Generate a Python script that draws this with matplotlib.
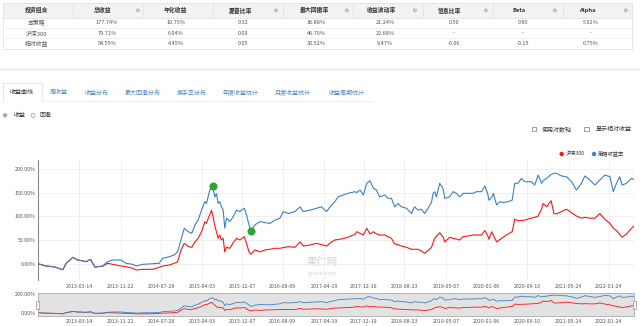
import matplotlib
matplotlib.use('Agg')
import matplotlib.pyplot as plt
import matplotlib.dates as mdates
from matplotlib.patches import Rectangle, Circle
import pandas as pd
import numpy as np

plt.rcParams['font.family'] = ['Noto Sans CJK SC', 'DejaVu Sans']

# ---------------- data ----------------
dates = [
"2012-07-05","2012-08-23","2012-10-04","2012-10-24","2012-11-24","2012-12-04","2012-12-24","2013-02-03","2013-03-04","2013-04-04",
"2013-04-24","2013-05-14","2013-05-24","2013-06-04","2013-06-20","2013-07-04","2013-08-04","2013-09-04","2013-10-05","2013-11-25",
"2013-12-25","2014-02-05","2014-02-25","2014-04-06","2014-06-06","2014-07-16","2014-08-06","2014-09-16","2014-10-16","2014-11-06",
"2014-11-26","2014-12-16","2015-01-10","2015-01-31","2015-02-20","2015-03-11","2015-04-01","2015-04-21","2015-05-01","2015-05-11",
"2015-05-21","2015-06-01","2015-06-07","2015-06-21","2015-07-01","2015-07-11","2015-07-21","2015-08-01","2015-08-11","2015-08-21",
"2015-09-01","2015-09-21","2015-10-11","2015-11-01","2015-11-21","2015-12-18","2016-01-01","2016-01-16","2016-01-27","2016-02-22",
"2016-03-23","2016-04-23","2016-05-23","2016-06-23","2016-07-23","2016-08-13","2016-09-13","2016-10-23","2016-11-23","2016-12-13",
"2017-01-23","2017-03-04","2017-04-04","2017-05-04","2017-06-04","2017-06-24","2017-07-14","2017-08-14","2017-09-14","2017-10-25",
"2017-11-04","2017-11-25","2017-12-15","2018-01-05","2018-01-25","2018-02-15","2018-03-05","2018-03-25","2018-04-25","2018-05-15",
"2018-06-05","2018-06-25","2018-07-15","2018-08-05","2018-09-05","2018-10-05","2018-10-25","2018-11-15","2018-12-05","2018-12-25",
"2019-01-15","2019-02-05","2019-02-15","2019-02-25","2019-03-07","2019-03-27","2019-04-16","2019-04-27","2019-05-27","2019-06-17",
"2019-07-07","2019-07-27","2019-08-17","2019-09-17","2019-10-17","2019-11-08","2019-12-08","2019-12-28","2020-01-14","2020-01-22",
"2020-02-08","2020-02-18","2020-03-09","2020-03-29","2020-04-18","2020-05-18","2020-06-12","2020-06-28","2020-07-18","2020-08-08",
"2020-08-28","2020-10-08","2020-10-28","2020-11-18","2020-12-09","2020-12-18","2021-01-09","2021-02-05","2021-02-23","2021-03-10",
"2021-04-10","2021-05-10","2021-06-10","2021-07-10","2021-08-10","2021-08-30","2021-09-30","2021-10-31","2021-11-30","2021-12-31",
"2022-01-31","2022-02-20","2022-03-12","2022-04-01","2022-04-15","2022-05-12","2022-06-12","2022-06-27"]

strategy_return = [
0, -4.9, -6.3, -7.7, -11.9, -12.5, 0.8, 13.4, 7.8, 6.0,
4.3, 7.8, 9.0, 0.8, -7.7, -6.3, -4.9, 4.3, 7.8, 7.8,
0.8, -1.4, -4.9, -1.4, 0.0, 0.8, 11.3, 14.8, 18.4, 25.4,
50.0, 74.6, 67.5, 64.0, 81.7, 92.0, 113.0, 131.0, 127.0, 141.0,
155.0, 159.0, 164.6, 141.0, 148.0, 127.0, 131.0, 120.0, 113.0, 75.0,
96.0, 89.0, 99.0, 113.0, 110.0, 117.0, 103.0, 82.0, 68.0, 82.0,
89.0, 86.5, 85.0, 92.0, 96.0, 110.0, 106.0, 110.0, 120.0, 110.0,
113.0, 117.0, 120.0, 110.0, 124.0, 131.0, 141.0, 145.0, 148.5, 152.0,
150.0, 155.5, 145.0, 169.6, 175.0, 159.0, 155.5, 141.0, 145.0, 138.0,
138.0, 120.0, 127.0, 120.0, 117.0, 106.0, 120.0, 113.0, 115.0, 106.0,
117.0, 130.0, 148.5, 152.0, 141.0, 169.6, 159.0, 138.0, 141.0, 152.0,
148.5, 141.0, 148.5, 148.5, 148.5, 152.0, 152.0, 164.0, 148.5, 134.0,
140.0, 148.5, 124.0, 131.0, 129.0, 131.0, 134.0, 169.6, 169.6, 180.0,
173.0, 173.0, 166.0, 187.0, 169.6, 175.0, 180.0, 188.0, 191.0, 190.7,
185.0, 183.6, 173.0, 155.5, 169.6, 185.0, 176.6, 166.0, 176.6, 187.0,
183.6, 152.0, 169.6, 183.6, 166.0, 169.6, 180.0, 177.74]

hs300_return = [
0, -4.9, -6.3, -7.7, -11.9, -12.5, 0.8, 13.4, 7.8, 6.0,
4.3, 7.8, 9.0, 0.8, -7.7, -6.3, -5.5, 0.8, -1.4, -4.9,
-6.3, -9.8, -13.3, -11.9, -11.9, -7.7, -4.9, -2.8, 0.8, 4.3,
28.9, 43.0, 36.0, 34.6, 46.0, 53.6, 67.5, 88.6, 85.0, 95.0,
103.0, 113.0, 105.0, 80.0, 67.5, 53.6, 60.6, 50.0, 53.6, 25.0,
34.6, 32.5, 44.0, 53.6, 50.0, 57.0, 43.0, 25.0, 20.0, 29.0,
25.0, 29.0, 30.5, 32.5, 32.5, 34.0, 36.0, 34.6, 46.0, 37.3,
39.5, 43.0, 40.0, 37.3, 46.0, 50.0, 51.0, 53.0, 56.0, 62.0,
67.5, 64.0, 60.6, 74.6, 62.7, 67.5, 63.0, 60.6, 60.6, 57.0,
53.6, 41.6, 40.0, 37.3, 34.6, 30.4, 30.4, 30.4, 27.0, 22.0,
28.0, 34.6, 45.0, 53.6, 58.0, 65.4, 57.0, 46.0, 55.7, 53.6,
52.0, 50.0, 57.0, 58.5, 60.6, 60.6, 60.6, 70.0, 60.0, 51.5,
67.5, 60.0, 46.0, 51.0, 55.7, 62.7, 67.5, 93.7, 90.7, 91.0,
92.0, 96.0, 98.0, 100.6, 115.0, 127.0, 120.0, 133.0, 106.0, 105.0,
110.0, 115.0, 107.6, 100.6, 96.0, 98.0, 96.0, 96.0, 106.0, 93.7,
85.0, 75.0, 69.6, 62.0, 55.7, 62.7, 74.6, 79.71]

tick_dates = ["2013-03-14", "2013-11-22", "2014-07-28", "2015-04-03", "2015-12-07",
              "2016-08-09", "2017-04-19", "2017-12-19", "2018-08-23", "2019-05-07",
              "2020-01-06", "2020-09-10", "2021-05-24", "2022-01-24"]
y_ticks = [0, 50, 100, 150, 200]
nav_y_ticks = [0, 200]

table_cols = ['投资组合', '总收益', '年化收益', '夏普比率', '最大回撤率',
              '收益波动率', '信息比率', 'Beta', 'Alpha']
row_names = ['本策略', '沪深300', '相对收益']
strategy_stats = ['177.74%', '10.75%', '0.32', '36.88%', '21.24%', '0.50', '0.85', '5.02%']
hs300_stats = ['79.71%', '6.04%', '0.09', '46.70%', '22.68%', '-', '-', '-']
relative_stats = ['54.55%', '4.45%', '0.05', '30.52%', '9.47%', '-0.06', '-0.15', '0.75%']

tabs = ['收益曲线', '周收益', '收益分布', '最大回撤分布', '换手率分布',
        '年度收益统计', '月度收益统计', '收益周期统计']
series_names = ['沪深300', '策略收益率']

# ---------------- styles ----------------
BLUE = '#3d80c3'
RED = '#ff1414'
GREEN = '#2ea52e'
W, H = 640, 326

x = pd.to_datetime(dates)
xt = pd.to_datetime(tick_dates)
strat = np.array(strategy_return)
hs = np.array(hs300_return)

fig = plt.figure(figsize=(6.4, 3.26), dpi=100)
fig.patch.set_facecolor('white')

# background layer (table, tabs, watermark)
bg = fig.add_axes([0, 0, 1, 1], zorder=0)
bg.set_xlim(0, W); bg.set_ylim(H, 0); bg.axis('off')

# --- table ---
tab_top, head_bot, r1, r2, tab_bot = 2.7, 17.7, 27.8, 38.4, 49.3
bg.add_patch(Rectangle((3, tab_top), 629, tab_bot - tab_top, facecolor='white',
                       edgecolor='#e3e3e3', lw=0.6))
bg.add_patch(Rectangle((3, tab_top), 629, head_bot - tab_top, facecolor='#f3f3f3',
                       edgecolor='#e3e3e3', lw=0.6))
for yl in [r1, r2]:
    bg.plot([3, 632], [yl, yl], color='#ececec', lw=0.5)
col_bounds = [73, 143, 213, 283, 353, 423, 493, 563]
for cb in col_bounds:
    bg.plot([cb, cb], [tab_top, head_bot], color='#e0e0e0', lw=0.5)
head_x = [37, 103, 176, 241, 314, 381, 450, 519, 587]
data_x = [37, 107, 176, 243, 316, 385, 454, 523, 591]
icon_x = [None, 138, None, 276, 347, 415, 486, 555, 626]
for i, name in enumerate(table_cols):
    bg.text(head_x[i], 10.3, name, ha='center', va='center', fontsize=4.2,
            color='#333333', fontweight='bold')
    if icon_x[i] is not None:
        bg.add_patch(Circle((icon_x[i], 10.3), 1.9, facecolor='#b5b5b5', edgecolor='none'))
        bg.text(icon_x[i], 10.4, 'i', ha='center', va='center', fontsize=2.6,
                color='white', fontweight='bold')
for r, (rn, vals) in enumerate(zip(row_names, [strategy_stats, hs300_stats, relative_stats])):
    yc = [22.7, 33.2, 43.6][r]
    bg.text(data_x[0], yc, rn, ha='center', va='center', fontsize=4.2, color='#555555')
    for j, v in enumerate(vals):
        bg.text(data_x[j + 1], yc, v, ha='center', va='center', fontsize=4.0, color='#555555')

# separator band
bg.add_patch(Rectangle((0, 67.5), W, 3, facecolor='#f2f2f2', edgecolor='none'))

# --- tabs ---
bg.plot([41.7, 372], [101, 101], color='#eeeeee', lw=0.6)
bg.plot([3.3, 3.3, 41.7, 41.7], [101, 83, 83, 101], color='#e3e3e3', lw=0.6)
tab_x = [22, 59, 97, 143, 192, 241, 293, 347]
for i, t in enumerate(tabs):
    bg.text(tab_x[i], 92.8, t, ha='center', va='center', fontsize=4.3,
            color='#333333' if i == 0 else '#4b88c6')

# radio buttons
bg.add_patch(Circle((5, 115.3), 2.0, facecolor='white', edgecolor='#999999', lw=0.5))
bg.add_patch(Circle((5, 115.3), 1.0, facecolor='#666666', edgecolor='none'))
bg.text(19.3, 115.3, '收益', ha='center', va='center', fontsize=4.3, color='#333333')
bg.add_patch(Circle((33, 115.3), 2.0, facecolor='white', edgecolor='#999999', lw=0.5))
bg.text(45, 115.3, '回撤', ha='center', va='center', fontsize=4.3, color='#333333')

# checkboxes
for cx, tx, label in [(534, 557, '使用对数轴'), (586.5, 614, '显示相对收益')]:
    bg.add_patch(Rectangle((cx - 2.2, 126.8), 4.4, 4.4, facecolor='white',
                           edgecolor='#777777', lw=0.5))
    bg.text(tx, 129, label, ha='center', va='center', fontsize=4.3, color='#333333')

# watermark
bg.text(322, 262, '果仁网', ha='center', va='center', fontsize=7.5, color='#d4d4d4')
bg.text(322, 274, 'guorn.com', ha='center', va='center', fontsize=4.2, color='#d4d4d4')

# ---------------- main chart ----------------
ax = fig.add_axes([38 / W, 1 - 280 / H, (634 - 38) / W, (280 - 160) / H], zorder=2)
ax.patch.set_alpha(0)
ax.plot(x, hs, color=RED, lw=0.8, zorder=3)
ax.plot(x, strat, color=BLUE, lw=0.8, zorder=3)

# max drawdown markers of the strategy
wealth = 1 + strat / 100
dd = wealth / np.maximum.accumulate(wealth) - 1
trough = int(np.argmin(dd))
peak = int(np.argmax(wealth[:trough + 1]))
ax.plot([x[peak], x[trough]], [strat[peak], strat[trough]], 'o', color=GREEN,
        ms=4.8, mec=GREEN, zorder=5)

ax.set_xlim(x[0], x[-1])
ax.set_ylim(-34.4, 218.8)
ax.set_yticks(y_ticks)
ax.set_yticklabels([f'{v:.2f}%' for v in y_ticks])
ax.set_xticks(xt)
ax.set_xticklabels(tick_dates)
ax.tick_params(axis='both', length=0, labelsize=3.8, labelcolor='#555555')
ax.tick_params(axis='x', pad=2.6)
ax.tick_params(axis='y', pad=1.5)
ax.grid(True, color='#ececec', lw=0.6)
ax.set_axisbelow(True)
for s in ['top', 'right', 'bottom']:
    ax.spines[s].set_visible(False)
ax.spines['left'].set_color('#8a8a8a')
ax.spines['left'].set_linewidth(0.8)

# ---------------- navigator ----------------
nav = fig.add_axes([38 / W, 1 - 316 / H, (634 - 38) / W, (316 - 293.3) / H], zorder=2)
nav.set_facecolor('#e2e2e2')
nav.plot(x, hs, color=RED, lw=0.6)
nav.plot(x, strat, color=BLUE, lw=0.6)
nav.set_xlim(x[0], x[-1])
nav.set_ylim(-36, 211)
nav.set_yticks(nav_y_ticks)
nav.set_yticklabels([f'{v:.2f}%' for v in nav_y_ticks])
nav.set_xticks(xt)
nav.set_xticklabels(tick_dates)
nav.tick_params(axis='both', length=0, labelsize=3.8, labelcolor='#555555')
nav.tick_params(axis='x', pad=2.2)
nav.tick_params(axis='y', pad=1.5)
for s in nav.spines.values():
    s.set_color('#aaaaaa')
    s.set_linewidth(0.6)

# ---------------- overlay (legend, handles) ----------------
top = fig.add_axes([0, 0, 1, 1], zorder=5)
top.set_xlim(0, W); top.set_ylim(H, 0); top.axis('off')
top.patch.set_alpha(0)
top.add_patch(Circle((561.7, 154), 2.2, facecolor=RED, edgecolor='none'))
top.text(565.5, 154, series_names[0], ha='left', va='center', fontsize=3.8, color='#333333')
top.add_patch(Circle((594, 154), 2.2, facecolor=BLUE, edgecolor='none'))
top.text(597.8, 154, series_names[1], ha='left', va='center', fontsize=3.8, color='#333333')
for hx in [37.5, 634.5]:
    top.add_patch(Rectangle((hx - 1.6, 300.5), 3.2, 8, facecolor='#f2f2f2',
                            edgecolor='#999999', lw=0.5))

fig.savefig('out.png', dpi=100, facecolor='white')
